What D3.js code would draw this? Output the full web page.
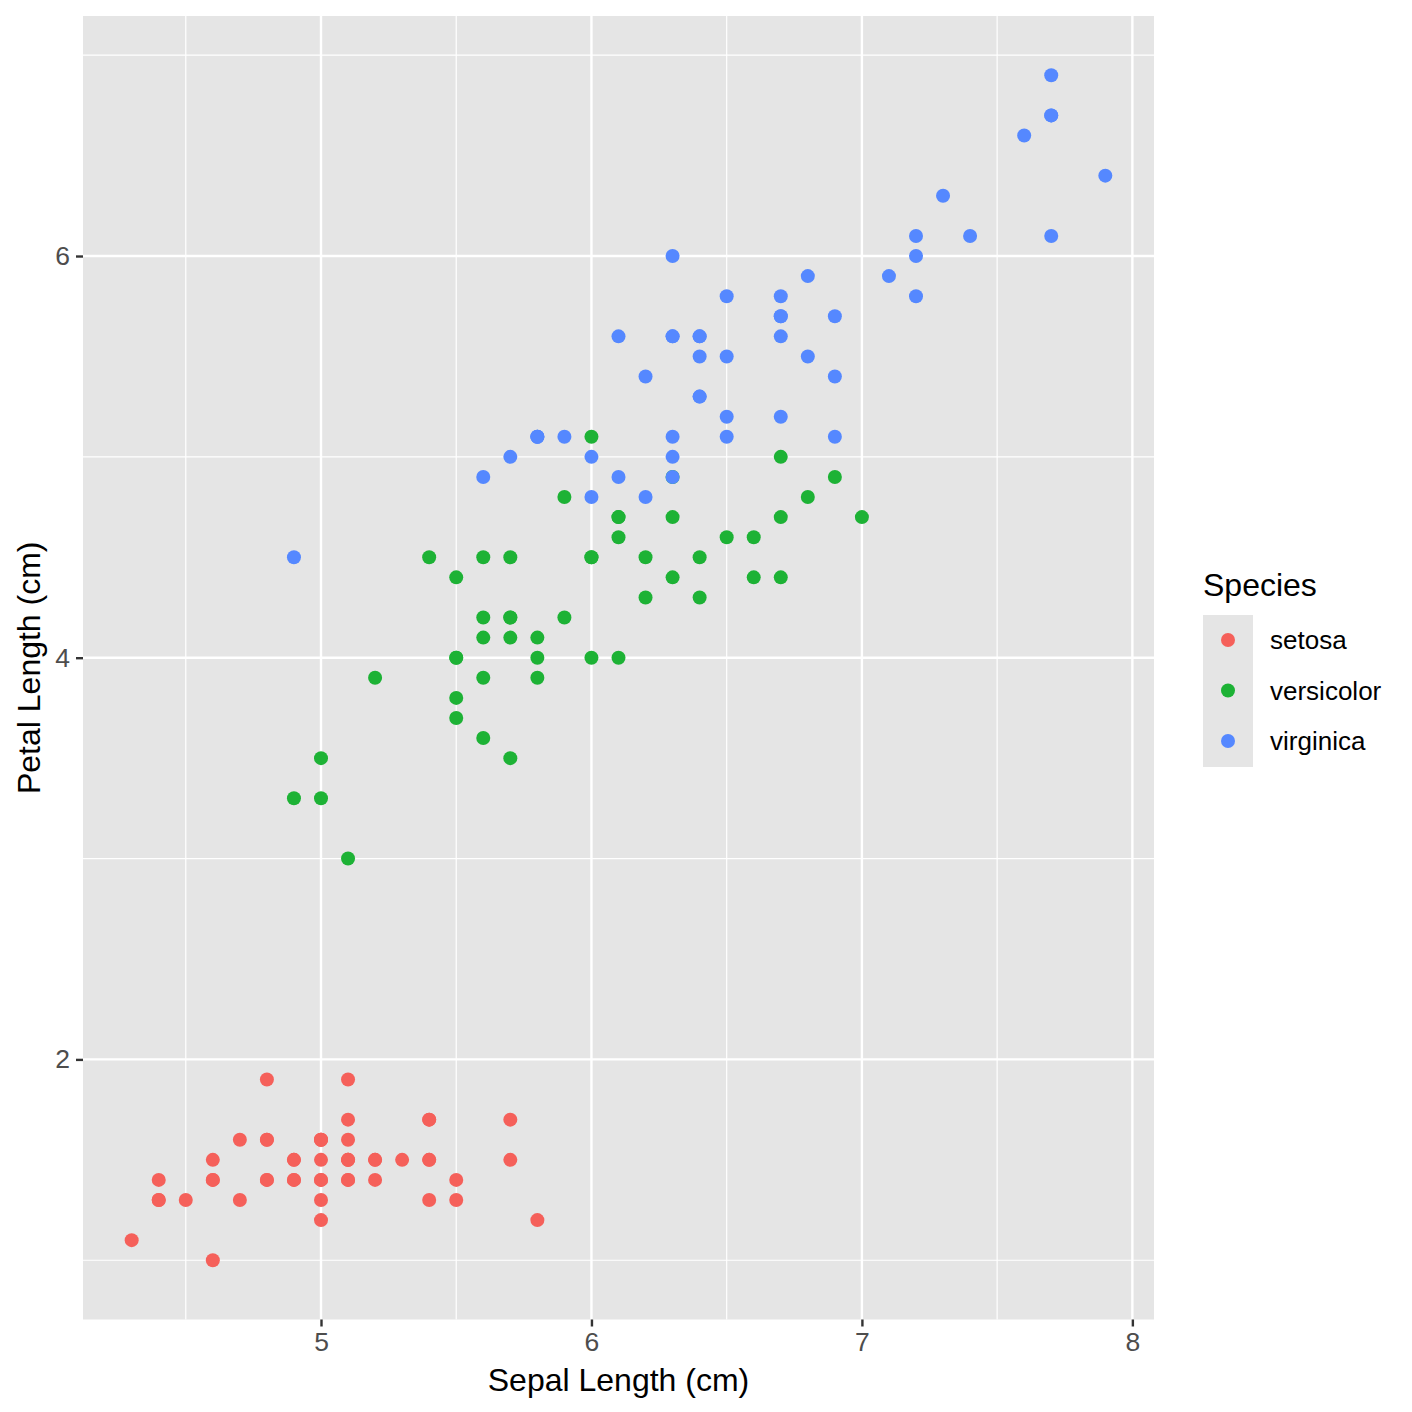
<!DOCTYPE html>
<meta charset="utf-8">
<style>
  body { margin: 0; background: #fff; }
  text { font-family: "Liberation Sans", Arial, sans-serif; }
</style>
<svg width="1412" height="1412"></svg>
<script src="https://cdn.jsdelivr.net/npm/d3@7"></script>
<script>
// iris: sepal length / petal length, by species
var species = ["setosa", "versicolor", "virginica"];
var colors = ["#F5605A", "#1DB235", "#5588FF"];

var setosaSepal = [5.1,4.9,4.7,4.6,5.0,5.4,4.6,5.0,4.4,4.9,5.4,4.8,4.8,4.3,5.8,5.7,5.4,5.1,5.7,5.1,
  5.4,5.1,4.6,5.1,4.8,5.0,5.0,5.2,5.2,4.7,4.8,5.4,5.2,5.5,4.9,5.0,5.5,4.9,4.4,5.1,
  5.0,4.5,4.4,5.0,5.1,4.8,5.1,4.6,5.3,5.0];
var setosaPetal = [1.4,1.4,1.3,1.5,1.4,1.7,1.4,1.5,1.4,1.5,1.5,1.6,1.4,1.1,1.2,1.5,1.3,1.4,1.7,1.5,
  1.7,1.5,1.0,1.7,1.9,1.6,1.6,1.5,1.4,1.6,1.6,1.5,1.5,1.4,1.5,1.2,1.3,1.4,1.3,1.5,
  1.3,1.3,1.3,1.6,1.9,1.4,1.6,1.4,1.5,1.4];
var versicolorSepal = [7.0,6.4,6.9,5.5,6.5,5.7,6.3,4.9,6.6,5.2,5.0,5.9,6.0,6.1,5.6,6.7,5.6,5.8,6.2,5.6,
  5.9,6.1,6.3,6.1,6.4,6.6,6.8,6.7,6.0,5.7,5.5,5.5,5.8,6.0,5.4,6.0,6.7,6.3,5.6,5.5,
  5.5,6.1,5.8,5.0,5.6,5.7,5.7,6.2,5.1,5.7];
var versicolorPetal = [4.7,4.5,4.9,4.0,4.6,4.5,4.7,3.3,4.6,3.9,3.5,4.2,4.0,4.7,3.6,4.4,4.5,4.1,4.5,3.9,
  4.8,4.0,4.9,4.7,4.3,4.4,4.8,5.0,4.5,3.5,3.8,3.7,3.9,5.1,4.5,4.5,4.7,4.4,4.1,4.0,
  4.4,4.6,4.0,3.3,4.2,4.2,4.2,4.3,3.0,4.1];
var virginicaSepal = [6.3,5.8,7.1,6.3,6.5,7.6,4.9,7.3,6.7,7.2,6.5,6.4,6.8,5.7,5.8,6.4,6.5,7.7,7.7,6.0,
  6.9,5.6,7.7,6.3,6.7,7.2,6.2,6.1,6.4,7.2,7.4,7.9,6.4,6.3,6.1,7.7,6.3,6.4,6.0,6.9,
  6.7,6.9,5.8,6.8,6.7,6.7,6.3,6.5,6.2,5.9];
var virginicaPetal = [6.0,5.1,5.9,5.6,5.8,6.6,4.5,6.3,5.8,6.1,5.1,5.3,5.5,5.0,5.1,5.3,5.5,6.7,6.9,5.0,
  5.7,4.9,6.7,4.9,5.7,6.0,4.8,4.9,5.6,5.8,6.1,6.4,5.6,5.1,5.6,6.1,5.6,5.5,4.8,5.4,
  5.6,5.1,5.1,5.9,5.7,5.2,5.0,5.2,5.4,5.1];

var xTicks = [5, 6, 7, 8];
var yTicks = [2, 4, 6];
var xMinor = [4.5, 5.5, 6.5, 7.5];
var yMinor = [1, 3, 5, 7];

var sepals = [setosaSepal, versicolorSepal, virginicaSepal];
var petals = [setosaPetal, versicolorPetal, virginicaPetal];
var points = [];
species.forEach(function(s, i) {
  sepals[i].forEach(function(v, j) {
    points.push({species: s, sepal: v, petal: petals[i][j], color: colors[i]});
  });
});

var svg = d3.select("svg");
var pLeft = 83, pRight = 1154, pTop = 16, pBottom = 1319.5;
var panelBg = "#E5E5E5";

// ggplot style 5% expansion
var xExt = d3.extent(points, d => d.sepal), yExt = d3.extent(points, d => d.petal);
var xPad = (xExt[1] - xExt[0]) * 0.05, yPad = (yExt[1] - yExt[0]) * 0.05;
var x = d3.scaleLinear().domain([xExt[0] - xPad, xExt[1] + xPad]).range([pLeft, pRight]);
var y = d3.scaleLinear().domain([yExt[0] - yPad, yExt[1] + yPad]).range([pBottom, pTop]);

svg.append("rect")
  .attr("x", pLeft).attr("y", pTop)
  .attr("width", pRight - pLeft).attr("height", pBottom - pTop)
  .attr("fill", panelBg);

var grid = svg.append("g");
grid.selectAll(".xminor").data(xMinor).join("line")
  .attr("x1", d => x(d)).attr("x2", d => x(d)).attr("y1", pTop).attr("y2", pBottom)
  .attr("stroke", "#fff").attr("stroke-width", 1.2);
grid.selectAll(".yminor").data(yMinor.filter(d => y(d) > pTop)).join("line")
  .attr("y1", d => y(d)).attr("y2", d => y(d)).attr("x1", pLeft).attr("x2", pRight)
  .attr("stroke", "#fff").attr("stroke-width", 1.2);
grid.selectAll(".xmajor").data(xTicks).join("line")
  .attr("x1", d => x(d)).attr("x2", d => x(d)).attr("y1", pTop).attr("y2", pBottom)
  .attr("stroke", "#fff").attr("stroke-width", 2.4);
grid.selectAll(".ymajor").data(yTicks).join("line")
  .attr("y1", d => y(d)).attr("y2", d => y(d)).attr("x1", pLeft).attr("x2", pRight)
  .attr("stroke", "#fff").attr("stroke-width", 2.4);

svg.append("g").selectAll("circle").data(points).join("circle")
  .attr("cx", d => x(d.sepal)).attr("cy", d => y(d.petal))
  .attr("r", 7).attr("fill", d => d.color);

// axes
var xAxis = svg.append("g").attr("transform", "translate(0," + pBottom + ")")
  .call(d3.axisBottom(x).tickValues(xTicks).tickSize(7).tickPadding(6).tickFormat(d3.format("d")));
var yAxis = svg.append("g").attr("transform", "translate(" + pLeft + ",0)")
  .call(d3.axisLeft(y).tickValues(yTicks).tickSize(7).tickPadding(6).tickFormat(d3.format("d")));
[xAxis, yAxis].forEach(function(a) {
  a.select(".domain").remove();
  a.selectAll(".tick line").attr("stroke", "#333").attr("stroke-width", 2.4);
  a.selectAll(".tick text").attr("fill", "#4D4D4D").style("font-size", "26.5px")
    .style("font-family", "Liberation Sans, Arial, sans-serif");
});

svg.append("text")
  .attr("x", (pLeft + pRight) / 2).attr("y", 1391)
  .attr("text-anchor", "middle").style("font-size", "32px")
  .text("Sepal Length (cm)");
svg.append("text")
  .attr("transform", "translate(40," + (pTop + pBottom) / 2 + ") rotate(-90)")
  .attr("text-anchor", "middle").style("font-size", "32px")
  .text("Petal Length (cm)");

// legend
var lg = svg.append("g").attr("transform", "translate(1203,0)");
lg.append("text").attr("x", 0).attr("y", 596).style("font-size", "32px").text("Species");
lg.append("rect").attr("x", 0).attr("y", 615).attr("width", 50).attr("height", 152).attr("fill", panelBg);
var keyY = d3.scalePoint().domain(species).range([640, 741]);
lg.selectAll("circle").data(species).join("circle")
  .attr("cx", 25).attr("cy", d => keyY(d)).attr("r", 7)
  .attr("fill", (d, i) => colors[i]);
lg.selectAll(".lab").data(species).join("text")
  .attr("x", 67).attr("y", d => keyY(d) + 9)
  .style("font-size", "26px").text(d => d);
</script>
